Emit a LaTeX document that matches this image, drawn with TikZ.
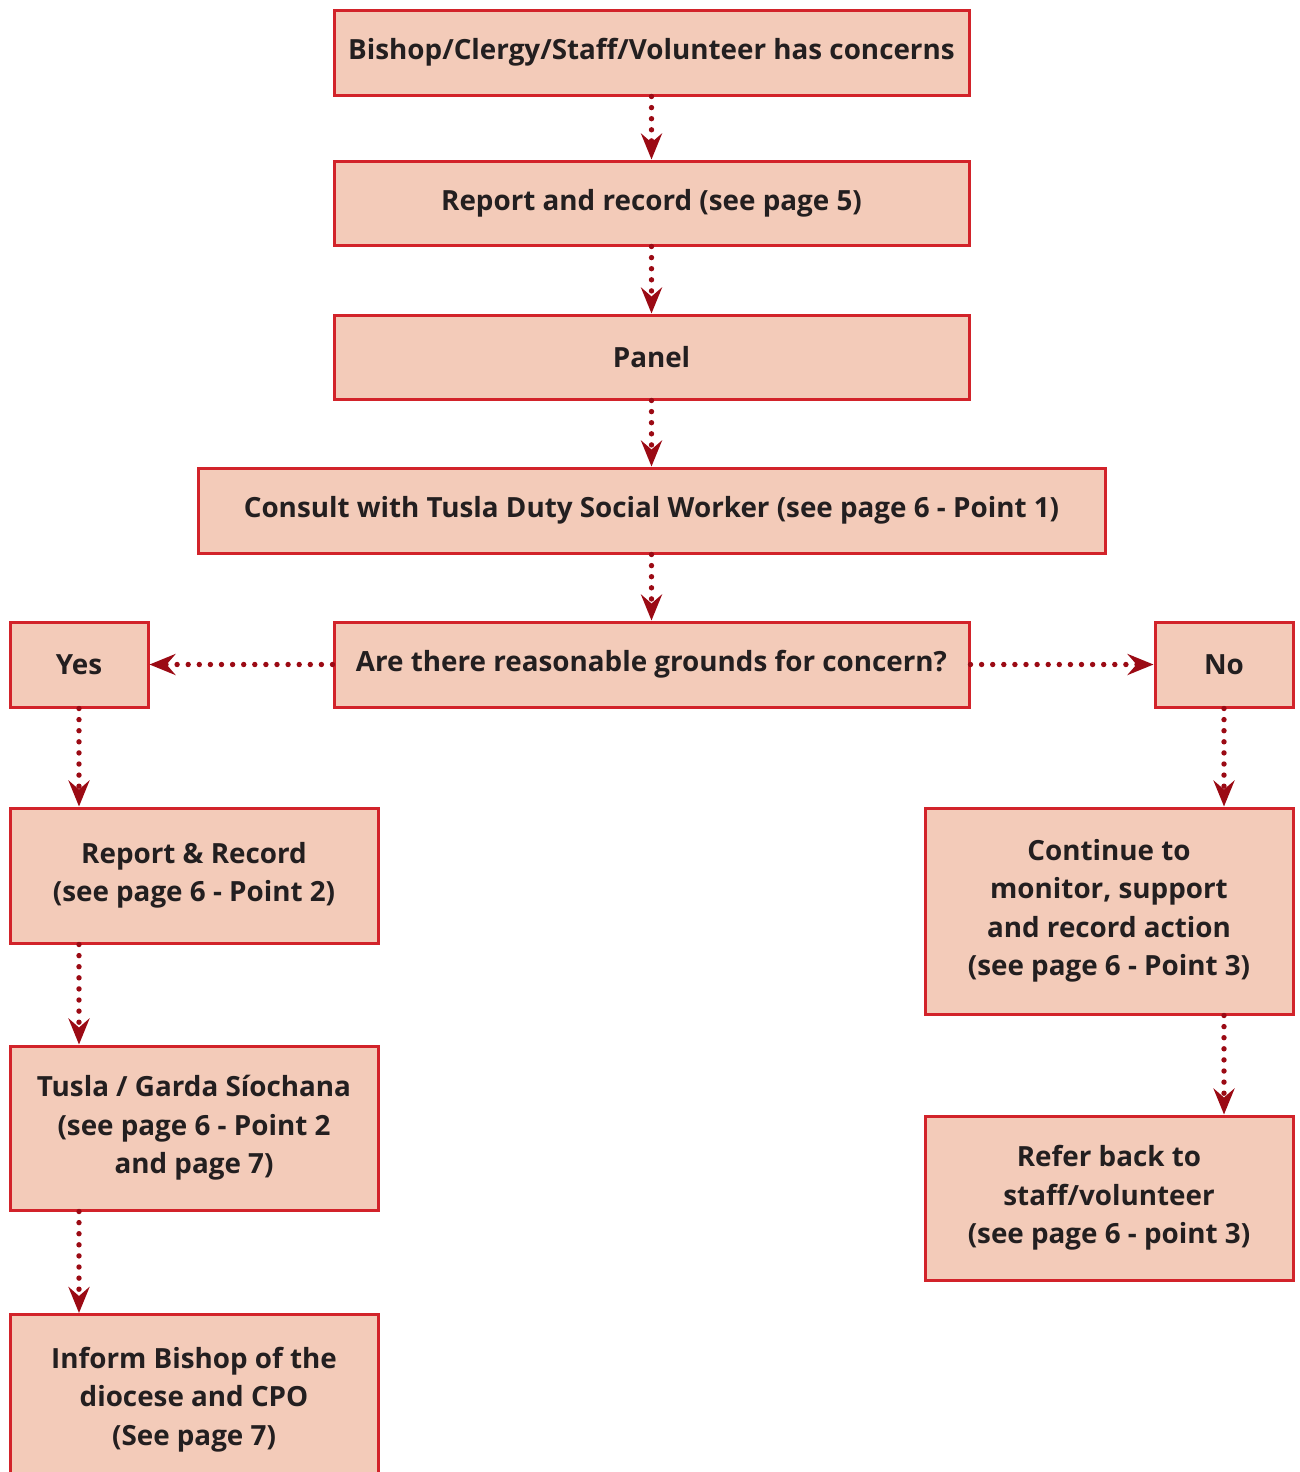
\documentclass[tikz,border=0pt]{standalone}
\usepackage{fontspec}
\setmainfont{Open Sans}
\usetikzlibrary{arrows.meta}
\definecolor{boxfill}{HTML}{F3CBB9}
\definecolor{boxline}{HTML}{D2232A}
\definecolor{arrcol}{HTML}{9B0A14}
\definecolor{txt}{HTML}{231F20}
\tikzset{
  fbox/.style={draw=boxline, fill=boxfill, line width=1.5pt, inner sep=0pt,
    align=center, text=txt, font=\bfseries\fontsize{13.9}{19.25}\selectfont},
  arr/.style={draw=arrcol, line width=2.7pt, line cap=round, dash pattern=on 0pt off 5.55pt,
    -{Stealth[length=13pt, width=10.5pt, inset=4.5pt, line cap=butt]}, shorten >=0pt},
}
\begin{document}
\begin{tikzpicture}[x=0.5pt, y=-0.5pt]
\useasboundingbox (0,0) rectangle (1300,1472);
\newcommand{\bx}[6]{% name, x1, y1, x2, y2, text
  \node[fbox, minimum width={(#4-#2)*0.5pt}, minimum height={(#5-#3)*0.5pt}] (#1) at ({(#2+#4)/2},{(#3+#5)/2}) {#6};}
\bx{b1}{334}{10}{969}{95}{Bishop/Clergy/Staff/Volunteer has concerns}
\bx{b2}{334}{161}{969}{245}{Report and record (see page 5)}
\bx{b3}{334}{315}{969}{399}{Panel}
\bx{b4}{198}{468}{1105}{553}{Consult with Tusla Duty Social Worker (see page 6 - Point 1)}
\bx{b5}{334}{622}{969}{707}{Are there reasonable grounds for concern?}
\bx{yes}{10}{622}{148}{707}{Yes}
\bx{no}{1155}{622}{1293}{707}{No}
\bx{y1}{10}{808}{378}{943}{Report \& Record\\(see page 6 - Point 2)}
\bx{y2}{10}{1046}{378}{1210}{Tusla / Garda Síochana\\(see page 6 - Point 2\\and page 7)}
\node[fbox, minimum width={368*0.5pt}, minimum height={170*0.5pt}, anchor=north] (y3) at (194,1313) {Inform Bishop of the\\diocese and CPO\\(See page 7)};
\bx{n1}{925}{808}{1293}{1014}{Continue to\\monitor, support\\and record action\\(see page 6 - Point 3)}
\bx{n2}{925}{1116}{1293}{1280}{Refer back to\\staff/volunteer\\(see page 6 - point 3)}
\draw[arr] (b1) -- (b2);
\draw[arr] (b2) -- (b3);
\draw[arr] (b3) -- (b3 |- b4.north);
\draw[arr] (b4.south -| b5.north) -- (b5);
\draw[arr] (b5) -- (yes);
\draw[arr] (b5) -- (no);
\draw[arr] (yes.south) -- (yes.south |- y1.north);
\draw[arr] (yes.south |- y1.south) -- (yes.south |- y2.north);
\draw[arr] (yes.south |- y2.south) -- (yes.south |- y3.north);
\draw[arr] (no.south) -- (no.south |- n1.north);
\draw[arr] (no.south |- n1.south) -- (no.south |- n2.north);
\end{tikzpicture}
\end{document}
